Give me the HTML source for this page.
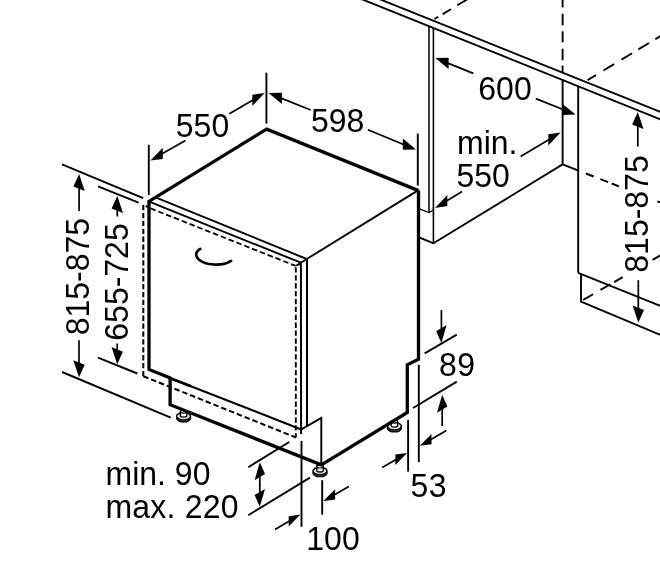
<!DOCTYPE html>
<html><head><meta charset="utf-8"><title>Dishwasher dimensions</title>
<style>
html,body{margin:0;padding:0;background:#fff;}
svg{display:block;will-change:transform}
svg text{font-family:"Liberation Sans",Arial,Helvetica,sans-serif;fill:#000;stroke:none}
</style></head><body>
<svg width="660" height="567" viewBox="0 0 660 567" stroke="#000" fill="none">
<rect width="660" height="567" fill="#fff" stroke="none"/>
<line x1="375.0" y1="-2.7" x2="665.0" y2="113.8" stroke-width="1.9" stroke-linecap="butt"/>
<line x1="358.0" y1="-2.3" x2="665.0" y2="121.2" stroke-width="1.9" stroke-linecap="butt"/>
<line x1="429.0" y1="26.3" x2="429.0" y2="212.3" stroke-width="1.5" stroke-linecap="butt"/>
<line x1="433.4" y1="28.1" x2="433.4" y2="243.3" stroke-width="1.6" stroke-linecap="butt"/>
<polyline points="419.4,208.9 429.0,212.5 433.4,210.0" fill="none" stroke-width="1.3" stroke-linejoin="miter"/>
<polyline points="419.4,237.5 433.4,243.3 562.6,164.4" fill="none" stroke-width="1.9" stroke-linejoin="miter"/>
<line x1="562.6" y1="79.5" x2="562.6" y2="164.4" stroke-width="1.9" stroke-linecap="butt"/>
<line x1="562.6" y1="0.0" x2="562.6" y2="7.4" stroke-width="1.9" stroke-linecap="butt"/>
<line x1="562.6" y1="13.8" x2="562.6" y2="25.4" stroke-width="1.9" stroke-linecap="butt"/>
<line x1="562.6" y1="31.3" x2="562.6" y2="42.3" stroke-width="1.9" stroke-linecap="butt"/>
<line x1="562.6" y1="48.7" x2="562.6" y2="60.3" stroke-width="1.9" stroke-linecap="butt"/>
<line x1="562.6" y1="65.6" x2="562.6" y2="72.6" stroke-width="1.9" stroke-linecap="butt"/>
<line x1="578.2" y1="86.3" x2="578.2" y2="272.8" stroke-width="1.9" stroke-linecap="butt"/>
<line x1="562.6" y1="164.4" x2="578.5" y2="170.6" stroke-width="1.9" stroke-linecap="butt"/>
<line x1="585.9" y1="173.5" x2="593.6" y2="176.5" stroke-width="1.9" stroke-linecap="butt"/>
<line x1="600.4" y1="179.1" x2="608.2" y2="182.2" stroke-width="1.9" stroke-linecap="butt"/>
<line x1="611.7" y1="183.5" x2="618.9" y2="186.4" stroke-width="1.9" stroke-linecap="butt"/>
<line x1="657.3" y1="201.3" x2="661.0" y2="202.7" stroke-width="1.9" stroke-linecap="butt"/>
<line x1="578.2" y1="272.8" x2="662.0" y2="306.6" stroke-width="1.9" stroke-linecap="butt"/>
<polyline points="581.0,274.0 581.0,301.7 662.0,335.5" fill="none" stroke-width="1.9" stroke-linejoin="miter"/>
<line x1="583.2" y1="299.9" x2="593.1" y2="294.2" stroke-width="1.9" stroke-linecap="butt"/>
<line x1="600.5" y1="289.9" x2="610.4" y2="284.2" stroke-width="1.9" stroke-linecap="butt"/>
<line x1="614.1" y1="282.1" x2="622.7" y2="277.1" stroke-width="1.9" stroke-linecap="butt"/>
<line x1="652.5" y1="259.9" x2="662.0" y2="254.4" stroke-width="1.9" stroke-linecap="butt"/>
<line x1="587.6" y1="80.1" x2="596.1" y2="75.0" stroke-width="1.9" stroke-linecap="butt"/>
<line x1="603.5" y1="70.5" x2="614.1" y2="64.1" stroke-width="1.9" stroke-linecap="butt"/>
<line x1="621.5" y1="59.6" x2="632.1" y2="53.2" stroke-width="1.9" stroke-linecap="butt"/>
<line x1="638.4" y1="49.4" x2="649.0" y2="43.0" stroke-width="1.9" stroke-linecap="butt"/>
<line x1="655.3" y1="39.2" x2="662.0" y2="35.2" stroke-width="1.9" stroke-linecap="butt"/>
<line x1="434.5" y1="19.0" x2="438.2" y2="16.8" stroke-width="1.9" stroke-linecap="butt"/>
<line x1="442.7" y1="14.1" x2="450.9" y2="9.2" stroke-width="1.9" stroke-linecap="butt"/>
<line x1="457.3" y1="5.3" x2="468.0" y2="-1.1" stroke-width="1.9" stroke-linecap="butt"/>
<line x1="154.9" y1="197.1" x2="306.8" y2="259.0" stroke-width="1.9" stroke-linecap="butt"/>
<line x1="150.4" y1="202.2" x2="300.9" y2="262.7" stroke-width="1.9" stroke-linecap="butt"/>
<line x1="300.9" y1="262.7" x2="306.8" y2="259.0" stroke-width="1.9" stroke-linecap="butt"/>
<line x1="306.8" y1="259.0" x2="417.6" y2="190.6" stroke-width="1.9" stroke-linecap="butt"/>
<line x1="307.0" y1="259.0" x2="307.0" y2="426.5" stroke-width="2.0" stroke-linecap="butt"/>
<line x1="300.9" y1="262.7" x2="301.1" y2="434.0" stroke-width="2.0" stroke-linecap="butt"/>
<polyline points="301.3,429.4 321.3,418.0 321.3,464.0" fill="none" stroke-width="1.9" stroke-linejoin="miter"/>
<polyline points="143.3,376.2 143.3,205.0 149.0,207.3" fill="none" stroke-width="2.0" stroke-dasharray="5.3 2.6" stroke-linejoin="miter"/>
<line x1="150.5" y1="208.4" x2="295.6" y2="265.9" stroke-width="1.8" stroke-dasharray="5.5 2.9" stroke-linecap="butt"/>
<line x1="296.3" y1="265.6" x2="300.4" y2="263.4" stroke-width="1.8" stroke-linecap="butt"/>
<line x1="295.8" y1="267.3" x2="295.8" y2="437.5" stroke-width="1.9" stroke-dasharray="5.3 2.6" stroke-linecap="butt"/>
<line x1="143.3" y1="376.2" x2="295.9" y2="437.5" stroke-width="2.0" stroke-dasharray="5.5 2.9" stroke-linecap="butt"/>
<ellipse cx="183.6" cy="418.09999999999997" rx="7" ry="3.7" fill="#9a9a9a" stroke-width="1.5"/>
<ellipse cx="183.6" cy="416.2" rx="7" ry="3.7" fill="#e4e4e4" stroke-width="1.5"/>
<path d="M180.4,411.59999999999997 L180.4,415.59999999999997 A3.2,1.6 0 0 0 186.79999999999998,415.59999999999997 L186.79999999999998,411.59999999999997 Z" fill="#fff" stroke-width="1.3"/>
<ellipse cx="183.6" cy="411.59999999999997" rx="3.2" ry="1.6" fill="#fff" stroke-width="1.2"/>
<ellipse cx="320" cy="472.9" rx="7" ry="3.7" fill="#9a9a9a" stroke-width="1.5"/>
<ellipse cx="320" cy="471" rx="7" ry="3.7" fill="#e4e4e4" stroke-width="1.5"/>
<path d="M316.8,466.4 L316.8,470.4 A3.2,1.6 0 0 0 323.2,470.4 L323.2,466.4 Z" fill="#fff" stroke-width="1.3"/>
<ellipse cx="320" cy="466.4" rx="3.2" ry="1.6" fill="#fff" stroke-width="1.2"/>
<ellipse cx="394.4" cy="428.09999999999997" rx="7" ry="3.7" fill="#9a9a9a" stroke-width="1.5"/>
<ellipse cx="394.4" cy="426.2" rx="7" ry="3.7" fill="#e4e4e4" stroke-width="1.5"/>
<path d="M391.2,421.59999999999997 L391.2,425.59999999999997 A3.2,1.6 0 0 0 397.59999999999997,425.59999999999997 L397.59999999999997,421.59999999999997 Z" fill="#fff" stroke-width="1.3"/>
<ellipse cx="394.4" cy="421.59999999999997" rx="3.2" ry="1.6" fill="#fff" stroke-width="1.2"/>
<line x1="169.0" y1="377.7" x2="301.3" y2="429.4" stroke-width="2.1" stroke-linecap="butt"/>
<line x1="169.0" y1="377.7" x2="191.0" y2="386.3" stroke-width="2.7" stroke-linecap="butt"/>
<polyline points="418.5,190.6 266.7,129.1 149.0,201.3 149.0,369.5 171.0,378.2" fill="none" stroke-width="3.3" stroke-linejoin="miter"/>
<polyline points="170.1,377.5 170.1,404.7 321.3,464.9 407.3,412.5 407.3,364.7 418.5,359.3 418.5,190.6" fill="none" stroke-width="3.3" stroke-linejoin="miter"/>
<path d="M200.3,248.9 C196,251.2 194.6,255.5 198.5,259.2 C205,265.2 222,266.8 231.1,260.8" fill="none" stroke-width="2.6" stroke-linecap="round"/>
<line x1="148.8" y1="144.8" x2="148.8" y2="195.0" stroke-width="1.9" stroke-linecap="butt"/>
<line x1="266.4" y1="72.7" x2="266.4" y2="123.6" stroke-width="1.9" stroke-linecap="butt"/>
<line x1="417.8" y1="133.6" x2="417.8" y2="185.5" stroke-width="1.9" stroke-linecap="butt"/>
<polygon points="150.4,160.4 162.8,158.9 162.8,147.7" fill="#000" stroke="none"/>
<line x1="185.5" y1="140.4" x2="160.3" y2="154.7" stroke-width="1.7" stroke-linecap="butt"/>
<polygon points="264.6,93.1 252.3,105.9 252.3,94.7" fill="#000" stroke="none"/>
<line x1="229.4" y1="113.8" x2="254.7" y2="98.9" stroke-width="1.7" stroke-linecap="butt"/>
<text transform="translate(202.5 136.5) scale(1 1.06)" font-size="32" text-anchor="middle">550</text>
<polygon points="268.6,93.1 281.9,104.0 281.9,92.8" fill="#000" stroke="none"/>
<line x1="310.7" y1="110.0" x2="279.2" y2="97.4" stroke-width="1.7" stroke-linecap="butt"/>
<polygon points="416.0,149.5 402.8,149.7 402.8,138.5" fill="#000" stroke="none"/>
<line x1="367.9" y1="129.8" x2="405.4" y2="145.2" stroke-width="1.7" stroke-linecap="butt"/>
<text transform="translate(337.7 132.3) scale(1 1.06)" font-size="32" text-anchor="middle">598</text>
<polygon points="435.3,58.1 448.6,69.0 448.6,57.8" fill="#000" stroke="none"/>
<line x1="473.3" y1="73.4" x2="445.9" y2="62.4" stroke-width="1.7" stroke-linecap="butt"/>
<polygon points="575.6,114.6 562.3,114.9 562.3,103.7" fill="#000" stroke="none"/>
<line x1="535.8" y1="98.6" x2="565.0" y2="110.3" stroke-width="1.7" stroke-linecap="butt"/>
<text transform="translate(505.0 99.7) scale(1 1.06)" font-size="32" text-anchor="middle">600</text>
<polygon points="435.0,207.9 447.3,206.1 447.3,194.9" fill="#000" stroke="none"/>
<line x1="462.1" y1="191.6" x2="444.8" y2="202.0" stroke-width="1.7" stroke-linecap="butt"/>
<polygon points="560.6,132.5 548.3,145.5 548.3,134.3" fill="#000" stroke="none"/>
<line x1="520.6" y1="156.5" x2="550.8" y2="138.4" stroke-width="1.7" stroke-linecap="butt"/>
<text transform="translate(457.0 154.2) scale(1 1.06)" font-size="32" text-anchor="start">min.</text>
<text transform="translate(456.5 187.4) scale(1 1.06)" font-size="32" text-anchor="start">550</text>
<line x1="62.0" y1="164.4" x2="143.2" y2="198.2" stroke-width="1.9" stroke-linecap="butt"/>
<line x1="98.0" y1="186.4" x2="138.6" y2="202.6" stroke-width="1.9" stroke-linecap="butt"/>
<line x1="98.0" y1="357.7" x2="137.3" y2="373.5" stroke-width="1.9" stroke-linecap="butt"/>
<line x1="62.1" y1="372.0" x2="170.7" y2="417.6" stroke-width="1.9" stroke-linecap="butt"/>
<polygon points="79.1,174.0 84.8,191.1 73.4,186.5" fill="#000" stroke="none"/>
<line x1="79.1" y1="211.0" x2="79.1" y2="185.8" stroke-width="1.7" stroke-linecap="butt"/>
<polygon points="79.0,377.3 84.7,364.8 73.3,360.2" fill="#000" stroke="none"/>
<line x1="79.0" y1="340.3" x2="79.0" y2="365.5" stroke-width="1.7" stroke-linecap="butt"/>
<polygon points="117.3,196.0 123.0,213.1 111.6,208.5" fill="#000" stroke="none"/>
<line x1="117.3" y1="216.5" x2="117.3" y2="207.8" stroke-width="1.7" stroke-linecap="butt"/>
<polygon points="117.2,364.2 122.9,351.7 111.5,347.1" fill="#000" stroke="none"/>
<line x1="117.2" y1="343.5" x2="117.2" y2="352.4" stroke-width="1.7" stroke-linecap="butt"/>
<text transform="translate(89.3 276.6) rotate(-90) scale(1 1.06)" font-size="32" text-anchor="middle">815-875</text>
<text transform="translate(128.3 282.0) rotate(-90) scale(1 1.06)" font-size="32" text-anchor="middle">655-725</text>
<polygon points="637.8,112.0 643.5,129.1 632.1,124.5" fill="#000" stroke="none"/>
<line x1="637.8" y1="146.5" x2="637.8" y2="123.8" stroke-width="1.7" stroke-linecap="butt"/>
<polygon points="638.3,322.6 644.0,310.1 632.6,305.5" fill="#000" stroke="none"/>
<line x1="638.3" y1="280.2" x2="638.3" y2="310.8" stroke-width="1.7" stroke-linecap="butt"/>
<text transform="translate(648.3 214.0) rotate(-90) scale(1 1.06)" font-size="32" text-anchor="middle">815-875</text>
<line x1="424.7" y1="353.4" x2="456.8" y2="334.6" stroke-width="1.9" stroke-linecap="butt"/>
<line x1="413.1" y1="408.0" x2="456.8" y2="381.6" stroke-width="1.9" stroke-linecap="butt"/>
<line x1="418.8" y1="364.7" x2="418.8" y2="462.2" stroke-width="1.9" stroke-linecap="butt"/>
<line x1="408.1" y1="419.8" x2="408.1" y2="471.6" stroke-width="1.9" stroke-linecap="butt"/>
<polygon points="441.4,343.0 446.6,325.1 436.2,331.3" fill="#000" stroke="none"/>
<line x1="441.4" y1="310.0" x2="441.4" y2="331.2" stroke-width="1.7" stroke-linecap="butt"/>
<polygon points="442.2,394.8 447.4,406.5 437.0,412.7" fill="#000" stroke="none"/>
<line x1="442.2" y1="426.0" x2="442.2" y2="406.6" stroke-width="1.7" stroke-linecap="butt"/>
<text transform="translate(457.3 375.6) scale(1 1.06)" font-size="32" text-anchor="middle" letter-spacing="0.4">89</text>
<polygon points="407.1,453.0 395.4,465.0 395.4,454.6" fill="#000" stroke="none"/>
<line x1="382.2" y1="467.4" x2="397.8" y2="458.4" stroke-width="1.7" stroke-linecap="butt"/>
<polygon points="419.8,445.8 431.5,444.3 431.5,433.9" fill="#000" stroke="none"/>
<line x1="446.4" y1="430.6" x2="429.2" y2="440.4" stroke-width="1.7" stroke-linecap="butt"/>
<text transform="translate(428.8 496.8) scale(1 1.06)" font-size="32" text-anchor="middle" letter-spacing="0.4">53</text>
<line x1="301.5" y1="441.0" x2="301.5" y2="526.8" stroke-width="1.9" stroke-linecap="butt"/>
<line x1="322.2" y1="480.2" x2="322.2" y2="514.7" stroke-width="1.9" stroke-linecap="butt"/>
<polygon points="300.4,514.6 288.7,526.6 288.7,516.2" fill="#000" stroke="none"/>
<line x1="275.0" y1="529.4" x2="291.1" y2="520.0" stroke-width="1.7" stroke-linecap="butt"/>
<polygon points="323.3,501.0 335.1,499.6 335.1,489.2" fill="#000" stroke="none"/>
<line x1="348.9" y1="486.6" x2="332.7" y2="495.7" stroke-width="1.7" stroke-linecap="butt"/>
<text transform="translate(333.0 549.5) scale(1 1.06)" font-size="32" text-anchor="middle">100</text>
<line x1="248.3" y1="467.2" x2="289.3" y2="442.0" stroke-width="1.9" stroke-linecap="butt"/>
<line x1="248.3" y1="515.2" x2="310.0" y2="477.6" stroke-width="1.9" stroke-linecap="butt"/>
<polygon points="259.8,462.3 265.0,474.0 254.6,480.2" fill="#000" stroke="none"/>
<line x1="259.8" y1="485.0" x2="259.8" y2="474.1" stroke-width="1.7" stroke-linecap="butt"/>
<polygon points="259.8,506.8 265.0,488.9 254.6,495.1" fill="#000" stroke="none"/>
<line x1="259.8" y1="484.0" x2="259.8" y2="495.0" stroke-width="1.7" stroke-linecap="butt"/>
<text transform="translate(105.5 484.8) scale(1 1.06)" font-size="32" text-anchor="start">min. 90</text>
<text transform="translate(105.5 517.5) scale(1 1.06)" font-size="32" text-anchor="start" letter-spacing="0.2">max. 220</text>
</svg>
</body></html>
